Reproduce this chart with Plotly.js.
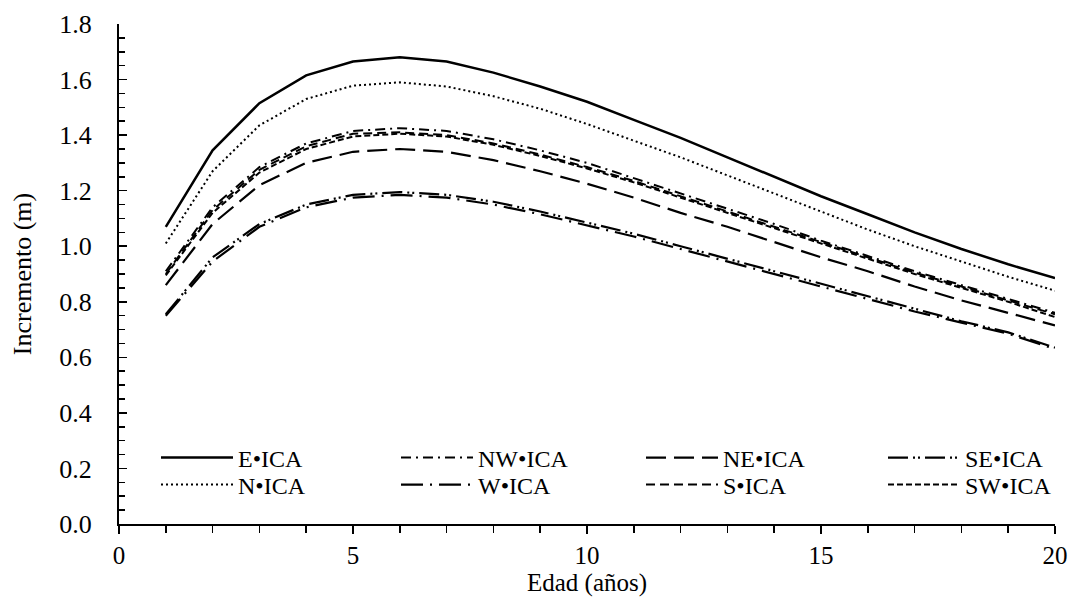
<!DOCTYPE html>
<html><head><meta charset="utf-8">
<script src="https://cdn.plot.ly/plotly-3.0.1.min.js"></script>
<style>body{margin:0;background:#fff}#c{width:1068px;height:599px}</style>
</head><body><div id="c"></div>
<script>
const edad = [1,2,3,4,5,6,7,8,9,10,11,12,13,14,15,16,17,18,19,20];
const E_ICA  = [1.07,1.345,1.515,1.615,1.665,1.68,1.665,1.625,1.575,1.52,1.455,1.39,1.32,1.25,1.18,1.115,1.05,0.99,0.935,0.885];
const N_ICA  = [1.01,1.27,1.435,1.53,1.578,1.59,1.575,1.54,1.495,1.44,1.38,1.32,1.255,1.19,1.125,1.06,1.0,0.945,0.89,0.84];
const NW_ICA = [0.91,1.14,1.285,1.37,1.415,1.425,1.415,1.385,1.345,1.3,1.245,1.19,1.135,1.08,1.02,0.965,0.91,0.86,0.81,0.76];
const S_ICA  = [0.90,1.13,1.275,1.36,1.405,1.41,1.40,1.37,1.33,1.285,1.235,1.18,1.125,1.07,1.015,0.96,0.905,0.855,0.805,0.755];
const SW_ICA = [0.895,1.12,1.265,1.35,1.395,1.405,1.395,1.365,1.325,1.28,1.23,1.175,1.12,1.065,1.01,0.955,0.9,0.85,0.8,0.745];
const NE_ICA = [0.86,1.08,1.22,1.30,1.34,1.35,1.34,1.31,1.27,1.225,1.175,1.12,1.07,1.015,0.96,0.91,0.855,0.805,0.76,0.715];
const SE_ICA = [0.755,0.96,1.08,1.15,1.185,1.195,1.185,1.16,1.125,1.085,1.045,1.0,0.955,0.91,0.865,0.82,0.775,0.73,0.69,0.635];
const W_ICA  = [0.75,0.945,1.07,1.14,1.175,1.185,1.175,1.15,1.115,1.075,1.035,0.99,0.945,0.9,0.855,0.81,0.765,0.725,0.685,0.63];
const names = ['E•ICA','N•ICA','NW•ICA','W•ICA','NE•ICA','S•ICA','SE•ICA','SW•ICA'];

function tr(y, name, dash, width, leg){
  return {x: edad, y: y, name: name, type:'scatter', mode:'lines',
    line:{color:'#000', width: width, dash: dash}, legend: leg};
}
const data = [
  tr(E_ICA, names[0], 'solid', 2.5, 'legend'),
  tr(N_ICA, names[1], '2px,3px', 2, 'legend2'),
  tr(NW_ICA, names[2], '10px,5px,2px,5px', 2, 'legend3'),
  tr(W_ICA, names[3], '22px,7px,2px,7px', 2.2, 'legend4'),
  tr(NE_ICA, names[4], '20px,8px', 2.2, 'legend5'),
  tr(S_ICA, names[5], '9px,5px', 2, 'legend6'),
  tr(SE_ICA, names[6], '20px,5px,2px,3px,2px,5px', 2.2, 'legend7'),
  tr(SW_ICA, names[7], '6px,3px', 2, 'legend8')
];
const FAM = 'Liberation Serif, Times New Roman, DejaVu Serif, serif';
const font = {family:FAM, size:26, color:'#000'};
const xfont = {family:FAM, size:25, color:'#000'};
const lfont = {family:FAM, size:24, color:'#000'};
function leg(px, py){
  return {x:(px-7-119)/937, xanchor:'left', y:(524-py)/500, yanchor:'middle', bgcolor:'rgba(0,0,0,0)',
    font:lfont, itemwidth:72, orientation:'v'};
}
const r1 = 458, r2 = 485;
const layout = {
  width:1068, height:599,
  margin:{l:119, r:12, t:24, b:75},
  paper_bgcolor:'#fff', plot_bgcolor:'#fff',
  font: font,
  showlegend:true,
  legend: leg(163, r1), legend2: leg(163, r2),
  legend3: leg(403, r1), legend4: leg(403, r2),
  legend5: leg(648, r1), legend6: leg(648, r2),
  legend7: leg(890, r1), legend8: leg(890, r2),
  xaxis:{range:[0,20], dtick:5, tick0:0, showgrid:false, zeroline:false,
    showline:true, linecolor:'#000', linewidth:2, ticks:'outside', ticklen:8, tickwidth:1.5, tickcolor:'#000',
    minor:{dtick:1, ticks:'outside', ticklen:7, tickwidth:1.5, tickcolor:'#000'},
    ticklabelstandoff:0,
    tickfont:xfont, title:{text:'Edad (años)', font:xfont, standoff:3}},
  yaxis:{range:[0,1.8], dtick:0.2, tick0:0, tickformat:'.1f', showgrid:false, zeroline:false,
    showline:true, linecolor:'#000', linewidth:2, ticks:'inside', ticklen:8, tickwidth:1.5, tickcolor:'#000',
    minor:{dtick:0.05, ticks:'inside', ticklen:6, tickwidth:1.5, tickcolor:'#000'},
    ticklabelstandoff:20,
    tickfont:font, title:{text:'Incremento (m)', font:font, standoff:20}}
};
Plotly.newPlot('c', data, layout, {displayModeBar:false, staticPlot:true});
</script></body></html>
